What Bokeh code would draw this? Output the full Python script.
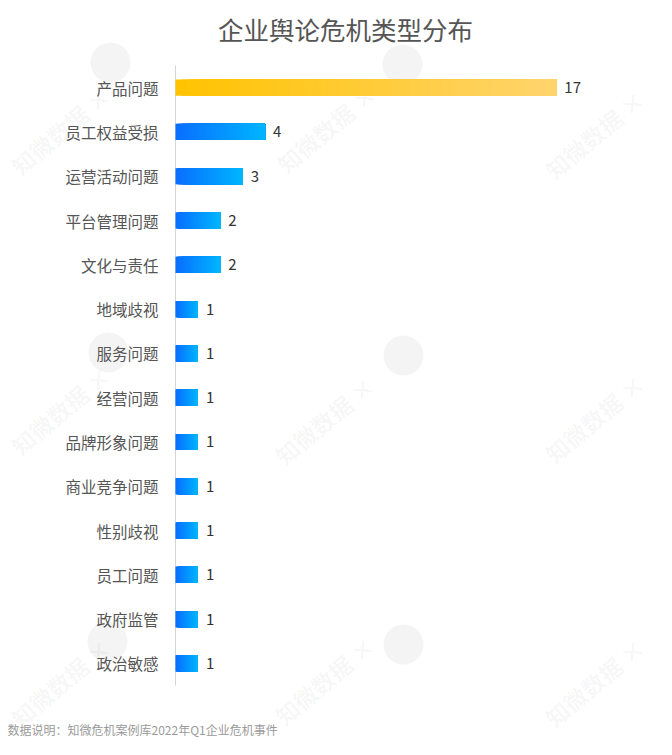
from bokeh.plotting import figure
from bokeh.models import ColumnDataSource, Range1d, Label
from bokeh.core.properties import value
from bokeh.embed import file_html
from bokeh.resources import INLINE

categories = ["产品问题", "员工权益受损", "运营活动问题", "平台管理问题", "文化与责任", "地域歧视",
              "服务问题", "经营问题", "品牌形象问题", "商业竞争问题", "性别歧视", "员工问题",
              "政府监管", "政治敏感"]
counts = [17, 4, 3, 2, 2, 1, 1, 1, 1, 1, 1, 1, 1, 1]

title_text = "企业舆论危机类型分布"
footer_text = "数据说明：知微危机案例库2022年Q1企业危机事件"
watermark_text = "知微数据 ×"

FONT = "Noto Sans CJK SC"
top_colors = ((0xFF, 0xC3, 0x00), (0xFF, 0xD4, 0x6E))
other_colors = ((0x0A, 0x6E, 0xFF), (0x00, 0xB6, 0xFF))

# layout (pixels)
W, H = 656, 739
AX_X = 175          # x pixel of the value axis origin
PX_PER_UNIT = 22.4
ROW_TOP = 65        # top of the category band
ROW_H = 44.29

n = len(categories)
idx = list(range(n))

x_start = -AX_X / PX_PER_UNIT
x_end = (W - AX_X) / PX_PER_UNIT
y_top = -(ROW_TOP + ROW_H / 2) / ROW_H
y_bottom = (H - ROW_TOP - ROW_H / 2) / ROW_H

p = figure(width=W, height=H, output_backend="svg", toolbar_location=None,
           x_range=Range1d(x_start, x_end), y_range=Range1d(y_bottom, y_top),
           min_border=0, min_border_left=0, min_border_right=0,
           min_border_top=0, min_border_bottom=0)
p.outline_line_color = None
p.grid.visible = False
p.axis.visible = False
p.background_fill_color = "white"
p.border_fill_color = "white"


def px_to_data(px, py):
    return (px - AX_X) / PX_PER_UNIT, (py - ROW_TOP - ROW_H / 2) / ROW_H


# watermark logos and texts (decoration, pixel positions)
logo_px = [(110, 62), (402, 64), (108, 352), (403, 355), (107, 641), (403, 644)]
lx, ly = zip(*[px_to_data(a, b) for a, b in logo_px])
logos = p.scatter(x=list(lx), y=list(ly), size=40, marker="circle",
                  fill_color="#000000", fill_alpha=0.045, line_color=None)
logos.level = "underlay"

wm_px = [(60, 130), (326, 128), (594, 134),
         (60, 410), (324, 420), (594, 418),
         (60, 682), (324, 680), (594, 682)]
for a, b in wm_px:
    p.add_layout(Label(x=a, y=H - b, x_units="screen", y_units="screen", text=watermark_text,
                       angle=0.70, text_align="center", text_baseline="middle",
                       text_font=FONT, text_font_size="23px", text_font_style="bold",
                       text_color="#000000", text_alpha=0.045, level="underlay"))

# axis line
p.segment(x0=[0], y0=[-0.5], x1=[0], y1=[n - 0.5], line_color="#d4d4d4", line_width=1)

# gradient bars: each bar split into slices along its own length
N = 60
ys, lefts, rights, cols = [], [], [], []
for i, v in zip(idx, counts):
    c0, c1 = top_colors if i == 0 else other_colors
    for k in range(N):
        t = (k + 0.5) / N
        rgb = tuple(int(round(a + (b - a) * t)) for a, b in zip(c0, c1))
        ys.append(i)
        lefts.append(v * k / N)
        rights.append(v)
        cols.append("#%02x%02x%02x" % rgb)
src = ColumnDataSource(dict(y=ys, left=lefts, right=rights, color=cols))
p.hbar(y="y", left="left", right="right", height=0.365, fill_color="color",
       line_color=None, source=src)

# category labels
cat_src = ColumnDataSource(dict(y=idx, x=[0] * n, t=categories))
p.text(x="x", y="y", text="t", source=cat_src, x_offset=-17, text_baseline="middle",
       text_align="right", text_font=value(FONT), text_font_size="15.5px",
       text_color="#555555")

# value labels
lab = ColumnDataSource(dict(y=idx, x=counts, t=[str(v) for v in counts]))
p.text(x="x", y="y", text="t", source=lab, x_offset=8, text_baseline="middle",
       text_align="left", text_font=value(FONT), text_font_size="15px", text_color="#333333")

p.add_layout(Label(x=345, y=H - 28, x_units="screen", y_units="screen", text=title_text,
                   text_align="center", text_baseline="middle", text_font=FONT,
                   text_font_size="25.5px", text_color="#555555"))
p.add_layout(Label(x=7, y=10, x_units="screen", y_units="screen", text=footer_text,
                   text_align="left", text_baseline="middle", text_font=FONT,
                   text_font_size="12px", text_color="#9a9a9a"))

open("out.html", "w").write(file_html(p, INLINE))
